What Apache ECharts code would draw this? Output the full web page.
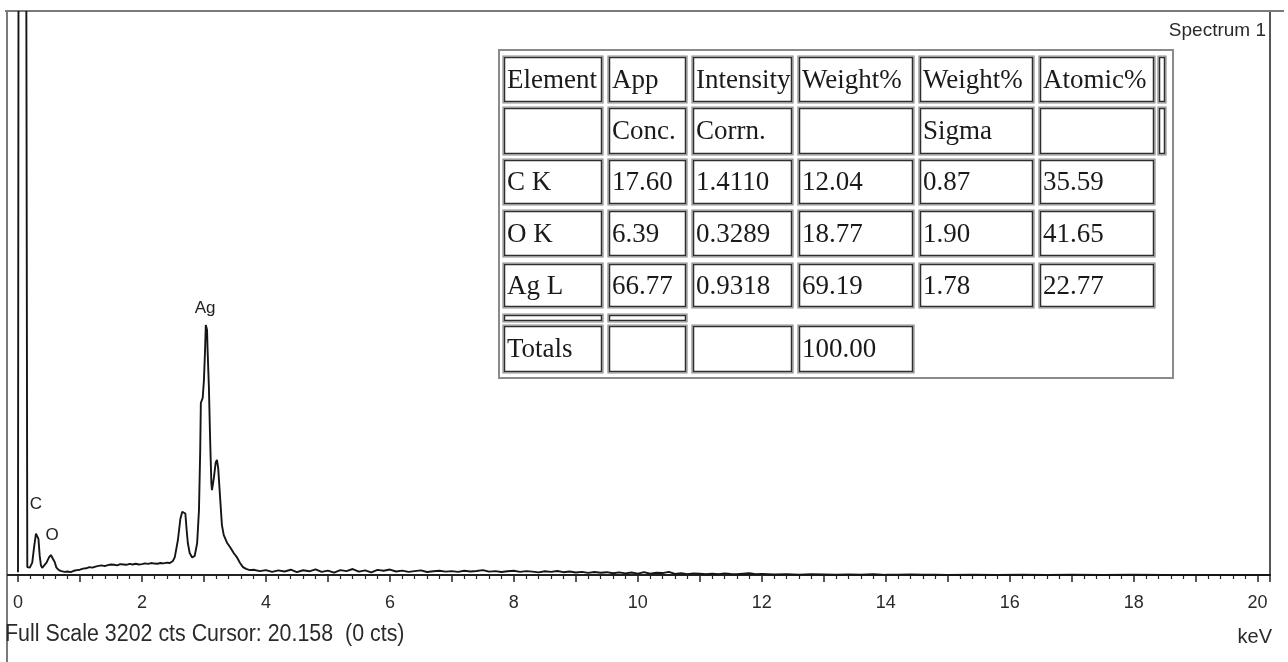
<!DOCTYPE html>
<html>
<head>
<meta charset="utf-8">
<script src="https://cdn.jsdelivr.net/npm/echarts@6/dist/echarts.min.js"></script>
<style>
html,body{margin:0;padding:0;background:#fff;}
#chart{width:1288px;height:662px;}
</style>
</head>
<body>
<div id="chart"></div>
<script>
// ---- data ----
const energies = [
  0.00,0.01,0.13,0.15,0.19,0.23,0.26,0.29,0.31,0.33,0.35,0.37,0.39,0.42,0.46,0.50,0.53,0.56,0.59,0.62,0.66,0.70,0.75,0.80,0.85,0.90,0.95,
  1.00,1.05,1.10,1.15,1.20,1.25,1.30,1.35,1.40,1.45,1.50,1.55,1.60,1.65,1.70,1.75,1.80,1.85,1.90,1.95,
  2.00,2.05,2.10,2.15,2.20,2.25,2.30,2.35,2.40,2.45,2.50,
  2.53,2.58,2.62,2.65,2.67,2.70,2.72,2.74,2.77,2.81,2.85,2.89,2.92,2.94,2.95,2.98,3.00,3.02,3.03,3.05,3.06,3.08,3.10,3.12,3.13,3.16,3.19,3.21,3.23,3.26,3.29,3.32,3.37,3.42,3.48,3.53,3.58,3.63,3.68,3.74,
  3.8,3.9,4.0,4.1,4.2,4.3,4.4,4.5,4.6,4.7,4.8,4.9,5.0,5.1,5.2,5.3,5.4,5.5,5.6,5.7,5.8,5.9,
  6.0,6.1,6.2,6.3,6.4,6.5,6.6,6.7,6.8,6.9,7.0,7.1,7.2,7.3,7.4,7.5,7.6,7.7,7.8,7.9,
  8.0,8.1,8.2,8.3,8.4,8.5,8.6,8.7,8.8,8.9,9.0,9.1,9.2,9.3,9.4,9.5,9.6,9.7,9.8,9.9,
  10.0,10.1,10.2,10.3,10.4,10.5,10.6,10.7,10.8,10.9,11.0,11.1,11.2,11.3,11.4,11.5,11.6,11.7,11.8,11.9,
  12.0,12.2,12.4,12.6,12.8,13.0,13.2,13.4,13.6,13.8,14.0,14.2,14.4,14.6,14.8,15.0,15.4,15.8,16.2,16.6,17.0,17.5,18.0,18.5,19.0,19.5,20.0,20.2
];
const counts = [
  15,4200,4200,45,42,70,160,235,245,205,110,55,40,45,70,100,114,110,75,42,28,22,18,20,16,24,28,
  30,36,38,45,42,48,52,55,50,56,60,58,55,62,60,58,63,60,64,60,
  62,66,63,68,65,64,68,66,70,68,80,
  102,199,320,360,370,350,260,182,125,100,108,180,370,711,978,1007,1109,1300,1422,1393,1268,1069,768,520,483,552,640,654,608,444,284,227,185,159,125,102,70,45,35,28,
  30,22,28,18,26,20,30,16,27,21,32,18,25,14,28,22,34,19,26,15,29,24,
  31,20,25,18,22,26,17,21,24,19,22,18,24,20,23,28,19,22,17,21,
  24,18,22,19,15,21,18,23,16,20,14,18,12,17,13,16,10,15,9,14,
  8,16,7,13,11,18,6,10,5,9,7,4,8,5,9,6,4,7,10,5,
  6,3,5,2,4,3,1,3,2,4,1,2,3,1,2,0,1,0,1,0,1,0,1,0,0,0,0,0
];
const peakNames = ['C', 'O', 'Ag'];
const peakKeV = [0.29, 0.55, 3.02];
const peakCts = [404, 227, 1518];
const tickLabels = ['0','2','4','6','8','10','12','14','16','18','20'];
const fullScale = 3202;

const tableHead1 = ['Element', 'App', 'Intensity', 'Weight%', 'Weight%', 'Atomic%'];
const tableHead2 = ['', 'Conc.', 'Corrn.', '', 'Sigma', ''];
const rowCK = ['C K', '17.60', '1.4110', '12.04', '0.87', '35.59'];
const rowOK = ['O K', '6.39', '0.3289', '18.77', '1.90', '41.65'];
const rowAgL = ['Ag L', '66.77', '0.9318', '69.19', '1.78', '22.77'];
const rowTotals = ['Totals', '', '', '100.00'];

// ---- build ----
const seriesData = energies.map((e, i) => [e, counts[i]]);
const labelData = peakNames.map((n, i) => [peakKeV[i], peakCts[i], n]);

function buildTable() {
  const colX = [[503,603],[608,687],[692,793],[798,914],[919,1034],[1039,1155]];
  const rowY = [[56,103],[107,155],[159,205],[210,257],[263,308],[325,373]];
  const rows = [tableHead1, tableHead2, rowCK, rowOK, rowAgL, rowTotals];
  const els = [];
  els.push({type:'rect', shape:{x:499,y:50,width:674,height:328},
    style:{fill:'#fff', stroke:'#8a8a8a', lineWidth:2}});
  function cell(x0, x1, y0, y1, txt) {
    els.push({type:'rect', shape:{x:x0,y:y0,width:x1-x0,height:y1-y0},
      style:{fill:'#fff', stroke:'#8c8c8c', lineWidth:1.2}});
    els.push({type:'rect', shape:{x:x0+1.5,y:y0+1.5,width:x1-x0-3,height:y1-y0-3},
      style:{fill:'none', stroke:'#2e2e2e', lineWidth:1.5}});
    if (txt) {
      els.push({type:'text', x:x0+4, y:(y0+y1)/2+1,
        style:{text:txt, font:'27px "Liberation Serif", "DejaVu Serif", serif',
          fill:'#1a1a1a', textVerticalAlign:'middle', textAlign:'left'}});
    }
  }
  rows.forEach((r, ri) => {
    r.forEach((t, ci) => cell(colX[ci][0], colX[ci][1], rowY[ri][0], rowY[ri][1], t));
  });
  cell(1158, 1166, 56, 103, '');
  cell(1158, 1166, 107, 155, '');
  cell(503, 603, 314, 322, '');
  cell(608, 687, 314, 322, '');
  return {type:'group', children: els, z: 100};
}

const chart = echarts.init(document.getElementById('chart'), null, {renderer:'canvas'});
const option = {
  animation: false,
  backgroundColor: '#fff',
  grid: {left: 18, right: 18, top: 12, bottom: 87, containLabel: false},
  xAxis: {
    type: 'value', min: 0, max: 20.2, interval: 1,
    splitLine: {show: false},
    axisLine: {show: true, onZero: false, lineStyle: {color: '#222', width: 2}},
    axisTick: {show: true, length: 7, lineStyle: {color: '#222', width: 1.5}},
    minorTick: {show: true, splitNumber: 5, length: 4, lineStyle: {color: '#222', width: 1.2}},
    axisLabel: {
      margin: 19, color: '#2a2a2a', fontSize: 18, fontFamily: '"Liberation Sans", Arial, sans-serif',
      showMaxLabel: false,
      formatter: v => { const s = String(Math.round(v * 1000) / 1000); return tickLabels.includes(s) ? s : ''; }
    }
  },
  yAxis: {type: 'value', min: 0, max: fullScale, show: false, splitLine: {show: false}},
  series: [
    {
      name: 'Spectrum 1', type: 'line', data: seriesData, showSymbol: false, symbol: 'none',
      clip: true, lineStyle: {color: '#151515', width: 1.9}
    },
    {
      name: 'peaks', type: 'scatter', data: labelData, symbolSize: 0,
      itemStyle: {opacity: 1},
      label: {show: true, position: 'inside', formatter: p => p.data[2],
        color: '#222', fontSize: 17, fontFamily: '"Liberation Sans", Arial, sans-serif'}
    }
  ],
  graphic: [
    {type:'line', shape:{x1:5,y1:11,x2:1284,y2:11}, style:{stroke:'#7a7a7a', lineWidth:2}},
    {type:'line', shape:{x1:7,y1:11,x2:7,y2:662}, style:{stroke:'#7a7a7a', lineWidth:2}},
    {type:'line', shape:{x1:1270,y1:12,x2:1270,y2:576}, style:{stroke:'#555', lineWidth:2}},
    {type:'line', shape:{x1:7,y1:575,x2:18,y2:575}, style:{stroke:'#222', lineWidth:2}},
    {type:'text', x:1266, y:31, style:{text:'Spectrum 1', font:'19px "Liberation Sans", Arial, sans-serif',
      fill:'#2a2a2a', textAlign:'right', textVerticalAlign:'middle'}},
    {type:'text', x:5, y:635, scaleX:0.93, style:{text:'Full Scale 3202 cts Cursor: 20.158  (0 cts)',
      font:'23px "Liberation Sans", Arial, sans-serif', fill:'#2a2a2a', textAlign:'left', textVerticalAlign:'middle'}},
    {type:'text', x:1272, y:637, style:{text:'keV', font:'20px "Liberation Sans", Arial, sans-serif',
      fill:'#2a2a2a', textAlign:'right', textVerticalAlign:'middle'}},
    buildTable()
  ]
};
chart.setOption(option);
</script>
</body>
</html>
